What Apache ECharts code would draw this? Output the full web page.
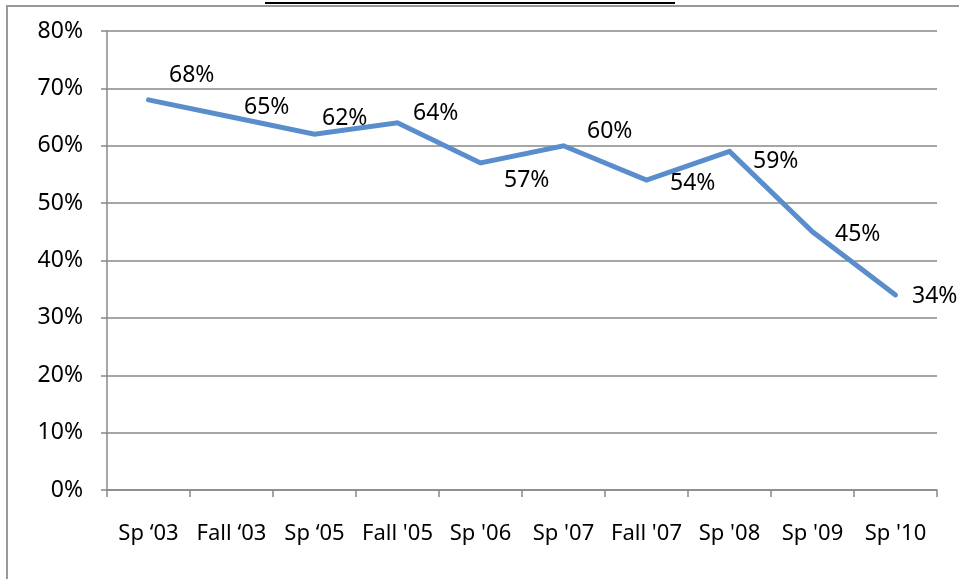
<!DOCTYPE html>
<html>
<head>
<meta charset="utf-8">
<script src="https://cdn.jsdelivr.net/npm/echarts@6/dist/echarts.min.js"></script>
<style>html,body{margin:0;padding:0;background:#fff;}#c{width:959px;height:579px;}</style>
</head>
<body>
<div id="c"></div>
<script>
var categories = ["Sp \u201803", "Fall \u201803", "Sp \u201805", "Fall '05", "Sp '06", "Sp '07", "Fall '07", "Sp '08", "Sp '09", "Sp '10"];
var values = [68, 65, 62, 64, 57, 60, 54, 59, 45, 34];
var yTicks = [0, 10, 20, 30, 40, 50, 60, 70, 80];
var labelOffsets = [[15, -24], [7, -10], [2, -16], [10, -9], [18, 17], [18, -14], [18, 3], [18, 10], [17, 3], [11, 2]];

var chart = echarts.init(document.getElementById('c'), null, {renderer: 'canvas'});
var font = '"Noto Sans", sans-serif';
var fs = 23;
chart.setOption({
  animation: false,
  grid: {left: 107, right: 22, top: 31, bottom: 89, containLabel: false},
  xAxis: {
    type: 'category',
    data: categories,
    boundaryGap: true,
    axisLine: {lineStyle: {color: '#888888', width: 1.5}},
    axisTick: {show: true, length: 7, lineStyle: {color: '#888888', width: 1.5}},
    axisLabel: {color: '#000', fontFamily: font, fontSize: fs - 1, margin: 33, interval: 0}
  },
  yAxis: {
    type: 'value',
    min: yTicks[0],
    max: yTicks[yTicks.length - 1],
    interval: 10,
    axisLine: {show: true, lineStyle: {color: '#888888', width: 1.5}},
    axisTick: {show: true, inside: false, length: 6, lineStyle: {color: '#888888', width: 1.5}},
    splitLine: {show: true, lineStyle: {color: '#888888', width: 1.5}},
    axisLabel: {color: '#000', fontFamily: font, fontSize: fs, margin: 24, formatter: function (v) { return v + '%'; }}
  },
  series: [{
    type: 'line',
    data: values.map(function (v, i) {
      return {value: v, label: {show: true, offset: labelOffsets[i]}};
    }),
    symbol: 'circle',
    symbolSize: 1,
    showSymbol: true,
    lineStyle: {color: '#5A8DCB', width: 5, cap: 'round', join: 'miter'},
    itemStyle: {color: 'rgba(90,141,203,0)', borderWidth: 0},
    label: {
      show: true,
      position: 'right',
      distance: 5,
      color: '#000',
      fontFamily: font,
      fontSize: fs,
      formatter: function (p) { return p.value + '%'; }
    }
  }],
  graphic: [
    {type: 'rect', shape: {x: 7, y: 6, width: 1000, height: 600}, style: {fill: 'none', stroke: '#999999', lineWidth: 2}, silent: true, z: -1},
    {type: 'line', shape: {x1: 265, y1: 3, x2: 675, y2: 3}, style: {stroke: '#000', lineWidth: 2}, silent: true}
  ]
});
</script>
</body>
</html>
